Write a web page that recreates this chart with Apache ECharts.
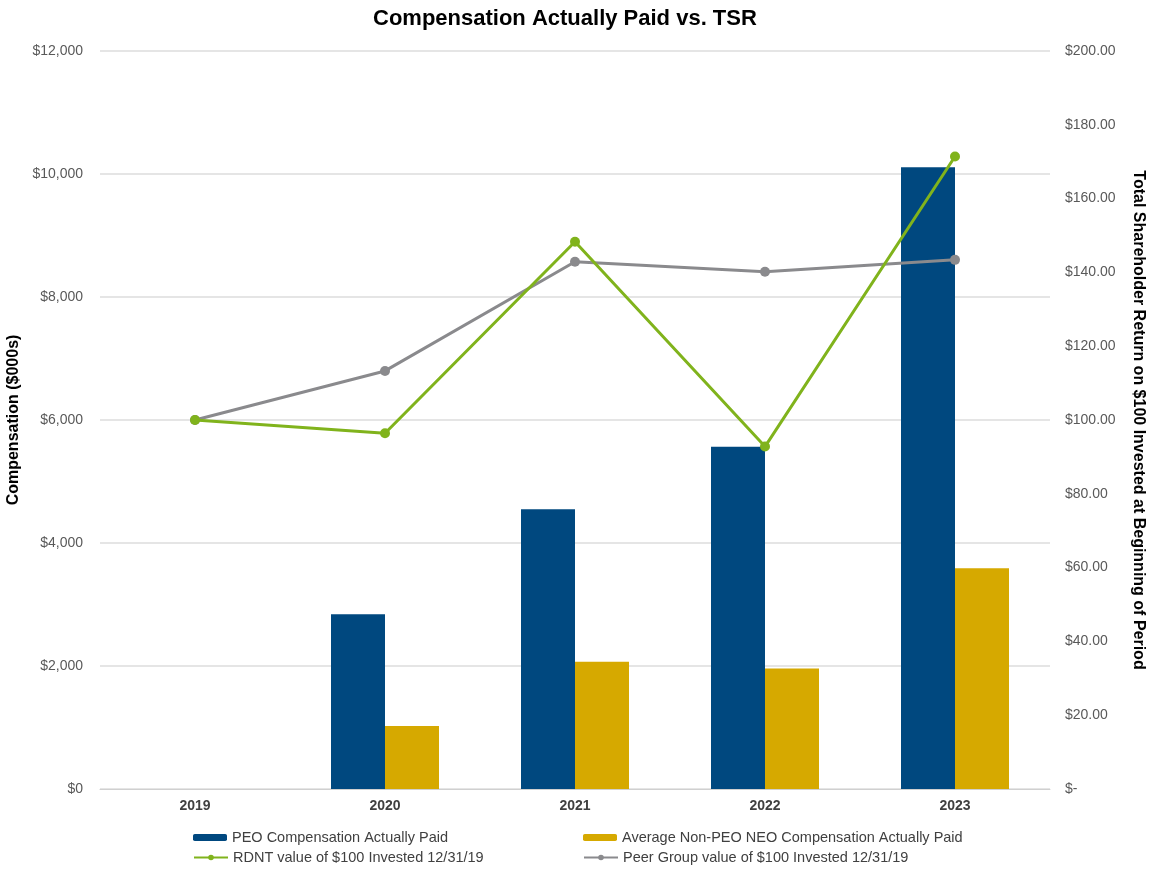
<!DOCTYPE html>
<html>
<head>
<meta charset="utf-8">
<style>
  html, body { margin: 0; padding: 0; background: #fff; }
  #chart { width: 1149px; height: 878px; }
</style>
<script src="https://cdn.jsdelivr.net/npm/echarts@6/dist/echarts.min.js"></script>
</head>
<body>
<div id="chart"></div>
<script>
// data
const years = ['2019', '2020', '2021', '2022', '2023']
const peoCap = [null, 2840, 4550, 5565, 10110]
const neoCap = [null, 1025, 2070, 1960, 3590]
const rdntTsr = [100, 96.4, 148.3, 92.8, 171.4]
const peerTsr = [100, 113.3, 142.9, 140.2, 143.4]

const leftTicks = { min: 0, max: 12000, interval: 2000 }
const rightTicks = { min: 0, max: 200, interval: 20 }

const names = [
    'PEO Compensation Actually Paid',
    'Average Non-PEO NEO Compensation Actually Paid',
    'RDNT value of $100 Invested 12/31/19',
    'Peer Group value of $100 Invested 12/31/19'
]
const colors = ['#00487f', '#d6a900', '#80b31c', '#8a8a8d']

const font = 'Arial, "Liberation Sans", sans-serif'
const labelStyle = { color: '#595959', fontSize: 14, fontFamily: font }

// one legend per item so each sits where the reference puts it
function legendAt (name, left, top) {
    return {
        data: [name],
        left: left,
        top: top,
        padding: 0,
        itemWidth: 34,
        itemHeight: 7,
        itemGap: 0,
        textStyle: { color: '#404040', fontSize: 14.5, fontFamily: font }
    }
}

let option = {
    animation: false,
    backgroundColor: '#fff',
    color: colors,
    title: {
        text: 'Compensation Actually Paid vs. TSR',
        left: 373,
        top: 8,
        padding: 0,
        textStyle: { fontSize: 22, fontWeight: 'bold', color: '#000', fontFamily: font }
    },
    legend: [
        legendAt(names[0], 193, 830),
        legendAt(names[1], 583, 830),
        legendAt(names[2], 193, 850),
        legendAt(names[3], 583, 850)
    ],
    grid: { left: 100, right: 99, top: 51, bottom: 89, outerBoundsMode: 'none' },
    xAxis: {
        type: 'category',
        data: years,
        axisTick: { show: false },
        axisLine: { lineStyle: { color: '#d0d0d0', width: 1 } },
        axisLabel: { color: '#404040', fontSize: 14, fontWeight: 'bold', fontFamily: font, margin: 10 }
    },
    yAxis: [{
        type: 'value',
        min: leftTicks.min,
        max: leftTicks.max,
        interval: leftTicks.interval,
        name: 'Compensation ($000s)',
        nameLocation: 'middle',
        nameGap: 72,
        nameTextStyle: { fontSize: 16, fontWeight: 'bold', color: '#000', fontFamily: font },
        axisLine: { show: false },
        axisTick: { show: false },
        splitLine: { lineStyle: { color: '#dcdcdc', width: 1.5 } },
        axisLabel: Object.assign({}, labelStyle, {
            margin: 17,
            formatter: v => '$' + v.toLocaleString('en-US')
        })
    }, {
        type: 'value',
        min: rightTicks.min,
        max: rightTicks.max,
        interval: rightTicks.interval,
        name: 'Total Shareholder Return on $100 Invested at Beginning of Period',
        nameLocation: 'middle',
        nameRotate: -90,
        nameGap: 80,
        nameTextStyle: { fontSize: 16, fontWeight: 'bold', color: '#000', fontFamily: font },
        axisLine: { show: false },
        axisTick: { show: false },
        splitLine: { show: false },
        axisLabel: Object.assign({}, labelStyle, {
            margin: 15,
            formatter: v => v === 0 ? '$-' : '$' + v.toFixed(2)
        })
    }],
    series: [{
        name: names[0],
        type: 'bar',
        data: peoCap,
        barWidth: 54,
        barGap: '0%'
    }, {
        name: names[1],
        type: 'bar',
        data: neoCap,
        barWidth: 54,
        barGap: '0%'
    }, {
        name: names[2],
        type: 'line',
        yAxisIndex: 1,
        data: rdntTsr,
        symbol: 'circle',
        symbolSize: 10,
        lineStyle: { width: 3 },
        z: 5
    }, {
        name: names[3],
        type: 'line',
        yAxisIndex: 1,
        data: peerTsr,
        symbol: 'circle',
        symbolSize: 10,
        lineStyle: { width: 3 },
        z: 4
    }]
}

const chart = echarts.init(document.getElementById('chart'))
chart.setOption(option)
</script>
</body>
</html>
